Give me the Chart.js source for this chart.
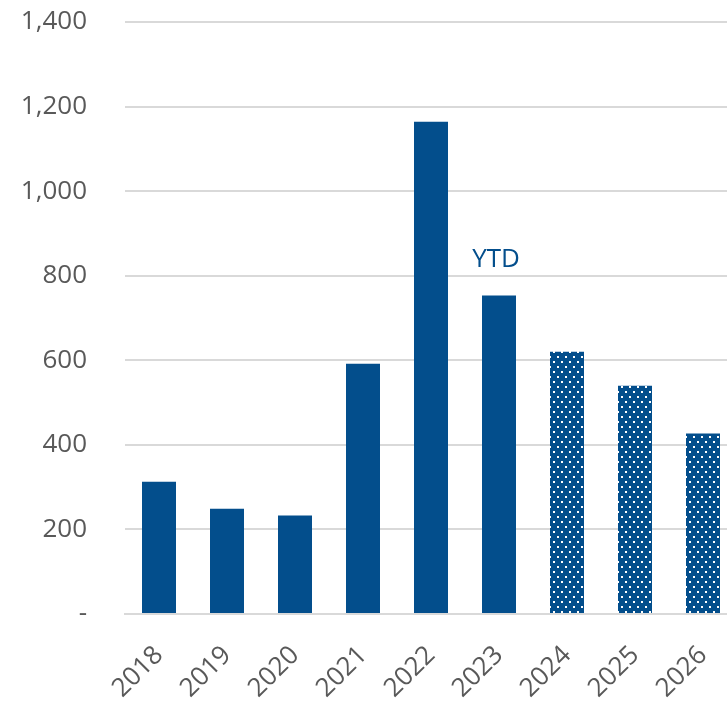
<!DOCTYPE html>
<html>
<head>
<meta charset="utf-8">
<script src="https://cdn.jsdelivr.net/npm/chart.js@4/dist/chart.umd.min.js"></script>
<style>
  html, body { margin: 0; padding: 0; background: #fff; overflow: hidden; }
  #wrap { position: relative; width: 737px; height: 703px; }
</style>
</head>
<body>
<div id="wrap"><canvas id="chart"></canvas></div>
<script>
// ── data ──────────────────────────────────────────────
const years    = ["2018", "2019", "2020", "2021", "2022", "2023", "2024", "2025", "2026"];
const values   = [313, 249, 233, 592, 1164, 753, 620, 540, 427];
const forecast = [false, false, false, false, false, false, true, true, true];
const yTicks   = [0, 200, 400, 600, 800, 1000, 1200, 1400];
const noteText = "YTD";
const noteIdx  = 5;

const BLUE = "#034E8C";
const GREY = "#595959";
const FONT = "'Open Sans', 'Noto Sans', sans-serif";

// white dotted fill for the projected years
function dotPattern() {
  const c = document.createElement("canvas");
  c.width = 8; c.height = 10;
  const g = c.getContext("2d");
  g.fillStyle = BLUE;
  g.fillRect(0, 0, 8, 10);
  g.fillStyle = "#fff";
  g.fillRect(1, 1, 2, 2);
  g.fillRect(5, 6, 2, 2);
  return g.createPattern(c, "repeat");
}

const dots   = dotPattern();
const colors = forecast.map(f => f ? dots : BLUE);

// label above the current-year bar
const notePlugin = {
  id: "note",
  afterDatasetsDraw(chart) {
    const bar = chart.getDatasetMeta(0).data[noteIdx];
    const ctx = chart.ctx;
    ctx.save();
    ctx.font = "26px " + FONT;
    ctx.fillStyle = BLUE;
    ctx.textAlign = "center";
    ctx.textBaseline = "alphabetic";
    ctx.fillText(noteText, bar.x - 3, bar.y - 29);
    ctx.restore();
  },
};

new Chart(document.getElementById("chart"), {
  type: "bar",
  data: {
    labels: years,
    datasets: [{
      data: values,
      backgroundColor: colors,
      borderWidth: 0,
      barPercentage: 0.5,
      categoryPercentage: 1,
    }],
  },
  options: {
    responsive: true,
    maintainAspectRatio: false,
    animation: false,
    layout: { padding: { top: 22, left: 0, right: 0, bottom: 0 } },
    plugins: {
      legend: { display: false },
      tooltip: { enabled: false },
    },
    scales: {
      x: {
        offset: true,
        grid: { display: false, drawTicks: false },
        border: { display: true, color: "#D9D9D9", width: 2 },
        ticks: {
          color: GREY,
          font: { family: FONT, size: 26 },
          minRotation: 45,
          maxRotation: 45,
          padding: 26,
          autoSkip: false,
        },
        afterFit: s => { s.height = 89; s.paddingLeft = 0; s.paddingRight = 0; },
      },
      y: {
        min: 0,
        max: 1400,
        afterBuildTicks: s => { s.ticks = yTicks.map(v => ({ value: v })); },
        grid: { color: "#D9D9D9", lineWidth: 2, drawTicks: false },
        border: { display: false },
        ticks: {
          color: GREY,
          font: { family: FONT, size: 26 },
          padding: 38,
          callback: v => v === 0 ? "-" : v.toLocaleString("en-US"),
        },
        afterFit: s => { s.width = 125; s.paddingTop = 0; s.paddingBottom = 0; },
      },
    },
  },
  plugins: [notePlugin],
});
</script>
</body>
</html>
